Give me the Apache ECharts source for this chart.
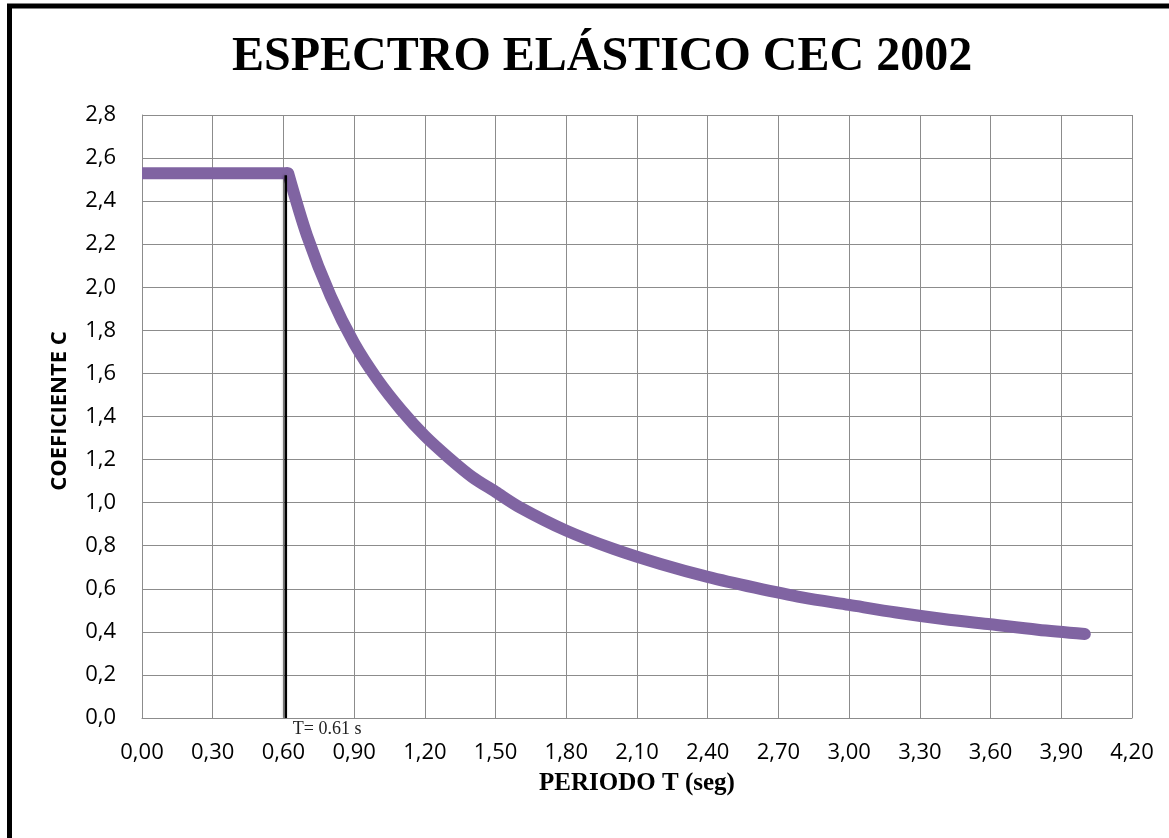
<!DOCTYPE html>
<html>
<head>
<meta charset="utf-8">
<style>
  html, body { margin: 0; padding: 0; background: #ffffff; }
  #chart { width: 1169px; height: 838px; }
</style>
<script src="https://cdn.jsdelivr.net/npm/echarts@6/dist/echarts.min.js"></script>
</head>
<body>
<div id="chart"></div>
<script>
// Elastic spectrum, CEC 2002: period T (s) vs. coefficient C
// Plateau segment
const plateauT = [0.00, 0.62];
const plateauC = [2.53, 2.53];
// Descending branch
const branchT = [0.62, 0.70, 0.80, 0.90, 1.00, 1.10, 1.20, 1.30, 1.40, 1.50, 1.60,
                 1.80, 2.00, 2.20, 2.40, 2.60, 2.80, 3.00, 3.20, 3.40, 3.60, 3.80, 4.00];
const branchC = [2.53, 2.24, 1.96, 1.74, 1.57, 1.43, 1.31, 1.21, 1.12, 1.05, 0.98,
                 0.87, 0.785, 0.715, 0.655, 0.605, 0.56, 0.525, 0.49, 0.46, 0.435, 0.41, 0.39];

// Corner period marker
const markerT = 0.61;
const markerTop = 2.52;
const markerText = 'T= 0.61 s';

const titleText = 'ESPECTRO ELÁSTICO CEC 2002';
const xName = 'PERIODO T (seg)';
const yName = 'COEFICIENTE C';

const comma = (v, d) => v.toFixed(d).replace('.', ',');
const pairs = (xs, ys) => xs.map((x, i) => [x, ys[i]]);

const curveStyle = { color: '#8064a2', width: 12, cap: 'round', join: 'round' };

const chart = echarts.init(document.getElementById('chart'));
chart.setOption({
  backgroundColor: '#ffffff',
  animation: false,
  title: {
    text: titleText,
    left: 227,
    top: 29,
    textStyle: {
      fontFamily: 'Liberation Serif, Times New Roman, serif',
      fontWeight: 'bold',
      fontSize: 48,
      color: '#000000'
    }
  },
  graphic: [
    {
      type: 'rect',
      shape: { x: 9.5, y: 6, width: 1300, height: 1000 },
      style: { fill: 'none', stroke: '#000000', lineWidth: 5 },
      silent: true,
      z: 100
    },
    {
      // vertical axis title
      type: 'text',
      x: 60,
      y: 411,
      rotation: Math.PI / 2,
      style: {
        text: yName,
        textAlign: 'center',
        textVerticalAlign: 'middle',
        fontFamily: 'Open Sans, sans-serif',
        fontWeight: 'bold',
        fontSize: 22,
        fill: '#000000'
      }
    },
    {
      // horizontal axis title
      type: 'text',
      x: 637,
      y: 784,
      style: {
        text: xName,
        textAlign: 'center',
        textVerticalAlign: 'middle',
        fontFamily: 'Liberation Serif, Times New Roman, serif',
        fontWeight: 'bold',
        fontSize: 25,
        fill: '#000000'
      }
    }
  ],
  grid: { left: 142, right: 37, top: 115, bottom: 120 },
  xAxis: {
    type: 'value',
    min: 0,
    max: 4.2,
    interval: 0.3,
    axisLine: { show: true, lineStyle: { color: '#8c8c8c', width: 1 } },
    axisTick: { show: false },
    axisLabel: {
      margin: 24,
      fontFamily: 'Open Sans, sans-serif',
      fontSize: 22,
      color: '#000000',
      formatter: v => comma(v, 2)
    },
    splitLine: { show: true, lineStyle: { color: '#8c8c8c', width: 1 } }
  },
  yAxis: {
    type: 'value',
    min: 0,
    max: 2.8,
    interval: 0.2,
    axisLine: { show: true, lineStyle: { color: '#8c8c8c', width: 1 } },
    axisTick: { show: false },
    axisLabel: {
      margin: 26,
      fontFamily: 'Open Sans, sans-serif',
      fontSize: 22,
      color: '#000000',
      formatter: v => comma(v, 1)
    },
    splitLine: { show: true, lineStyle: { color: '#8c8c8c', width: 1 } }
  },
  series: [
    {
      type: 'line',
      data: pairs(plateauT, plateauC),
      showSymbol: false,
      lineStyle: Object.assign({}, curveStyle, { cap: 'butt' }),
      z: 3
    },
    {
      type: 'line',
      data: pairs(branchT, branchC),
      showSymbol: false,
      smooth: 0.3,
      lineStyle: curveStyle,
      z: 3
    },
    {
      type: 'line',
      data: [[markerT, 0], [markerT, markerTop]],
      showSymbol: false,
      lineStyle: {
        color: '#000000',
        width: 2.5,
        shadowColor: 'rgba(0,0,0,0.35)',
        shadowBlur: 3,
        shadowOffsetX: -1
      },
      markPoint: {
        symbol: 'circle',
        symbolSize: 0,
        data: [{ coord: [markerT, 0] }],
        label: {
          show: true,
          position: 'right',
          formatter: markerText,
          offset: [2, 11],
          fontFamily: 'Liberation Serif, Times New Roman, serif',
          fontSize: 18,
          color: '#222222'
        }
      },
      z: 4
    }
  ]
});
</script>
</body>
</html>
